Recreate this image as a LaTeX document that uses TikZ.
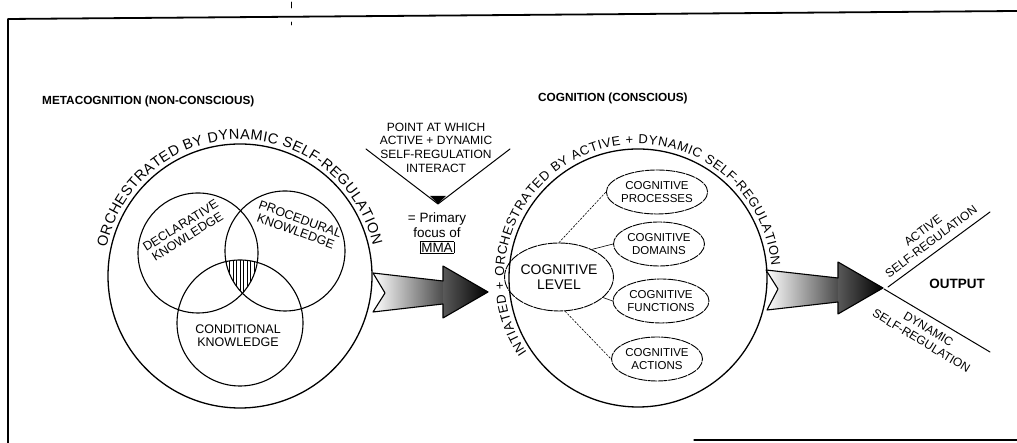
\documentclass[tikz,border=0pt]{standalone}
\usepackage{fontspec}
\setmainfont{Liberation Sans}
\usetikzlibrary{calc,decorations.text,shapes.geometric}
\begin{document}
\begin{tikzpicture}[x=1pt,y=1pt,line cap=round,line join=round,
  frameline/.style={line width=1.8pt},
  ring/.style={line width=1.3pt},
  venn/.style={line width=1.1pt},
  lab/.style={inner sep=0pt,align=center,font=\fontsize{12.5}{13}\selectfont},
  small/.style={inner sep=0pt,align=center,font=\fontsize{12}{13.7}\selectfont},
  cogell/.style={ellipse,draw,line width=0.9pt,dash pattern=on 9pt off 1.3pt,
     minimum width=91pt,minimum height=44pt,inner sep=0pt,align=center,
     font=\fontsize{11.5}{12.8}\selectfont},
  link/.style={line width=0.6pt},
  dlink/.style={line width=0.6pt,dash pattern=on 2pt off 1.5pt},
  arrowline/.style={line width=1.1pt},
  title/.style={font=\bfseries\fontsize{11.8}{14}\selectfont,inner sep=0pt,anchor=west},
  ringtext/.style={decorate,decoration={text along path,text align=fit to path,text={#1}}},
]
\useasboundingbox (0,0) rectangle (1017,443);

% frame
\coordinate (f1) at (8,0);
\coordinate (f2) at (8,424);
\coordinate (f3) at (1017,432);
\coordinate (f4) at (694,3);
\coordinate (f4b) at (760,3);
\coordinate (f4c) at (948,3);
\coordinate (f5) at (1017,3);
\draw[frameline] (f1) -- (f2) -- (f3);
\draw[line width=1.2pt] (f4) -- (f4b);
\draw[line width=1.8pt] (f4b) -- (f4c);
\draw[line width=2.4pt] (f4c) -- (f5);
\coordinate (k1) at (291,441); \coordinate (k2) at (291,435);
\coordinate (k3) at (291,421); \coordinate (k4) at (291,418);
\draw[line width=0.8pt] (k1) -- (k2) (k3) -- (k4);

% titles
\node[title] (t1) at (42,342) {METACOGNITION (NON-CONSCIOUS)};
\node[title] (t2) at (538,345) {COGNITION (CONSCIOUS)};

% left: metacognition
\coordinate (lc) at (240,167);
\draw[ring] (lc) circle (132pt);
\path[ringtext={|\fontsize{14.5}{14.5}\selectfont|ORCHESTRATED BY DYNAMIC SELF-REGULATION}]
  ($(lc)+(168:136.5pt)$) arc (168:13:136.5pt);

\coordinate (dc) at (198,190);
\coordinate (pc) at (285,192);
\coordinate (cc) at (240,120);
\begin{scope}
  \clip (dc) circle (60pt);
  \clip (pc) circle (60pt);
  \clip (cc) circle (63pt);
  \foreach \x in {212,215.5,...,270} {\draw[line width=0.6pt] (\x,140) -- (\x,190);}
\end{scope}
\draw[venn] (dc) circle (60pt);
\draw[venn] (pc) circle (60pt);
\draw[venn] (cc) circle (63pt);
\node[lab,rotate=32] (dec) at (184,212) {DECLARATIVE\\KNOWLEDGE};
\node[lab,rotate=-20] (proc) at (298,218) {PROCEDURAL\\KNOWLEDGE};
\node[lab] (cond) at (238,107) {CONDITIONAL\\KNOWLEDGE};

% arrow 1
\coordinate (a1t) at (373,170);
\coordinate (a1n) at (385,150);
\coordinate (a1b) at (373,131);
\coordinate (a1st) at (443,162);
\coordinate (a1sb) at (443,139);
\coordinate (a1ht) at (443,177);
\coordinate (a1hb) at (443,125);
\coordinate (a1tip) at (488,151);
\shade[left color=white,right color=black!70] (a1t) -- (a1st) -- (a1sb) -- (a1b) -- (a1n) -- cycle;
\shade[left color=black!65,right color=black] (a1ht) -- (a1tip) -- (a1hb) -- cycle;
\draw[arrowline] (a1t) -- (a1st) -- (a1ht) -- (a1tip) -- (a1hb) -- (a1sb) -- (a1b) -- (a1n) -- cycle;

% interaction point
\node[small] (pt) at (436,295.5) {POINT AT WHICH\\ACTIVE + DYNAMIC\\SELF-REGULATION\\INTERACT};
\coordinate (vl) at (366,294);
\coordinate (vv) at (438,239);
\coordinate (vr) at (510,294);
\coordinate (vtl) at (430,247);
\coordinate (vtr) at (446,247);
\draw[line width=1pt] (vl) -- (vv) -- (vr);
\fill (vtl) -- (vtr) -- (vv) -- cycle;
\node[inner sep=0pt,align=center,font=\fontsize{13.5}{15}\selectfont] (mma) at (437,210)
  {= Primary\\focus of\\{\setlength\fboxsep{0.8pt}\setlength\fboxrule{0.8pt}\fbox{MMA}}};

% right: cognition
\coordinate (rc) at (638,165);
\draw[ring] (rc) circle (129pt);
\path[ringtext={|\fontsize{13}{13}\selectfont|INTIATED + ORCHESTRATED BY ACTIVE + DYNAMIC SELF-REGULATION}]
  ($(rc)+(214:134pt)$) arc (214:5:134pt);

\node[cogell,minimum width=88pt,minimum height=68pt,font=\fontsize{14}{15.5}\selectfont] (cl) at (559,166) {COGNITIVE\\LEVEL};
\node[cogell] (procs) at (657,251) {COGNITIVE\\PROCESSES};
\node[cogell] (doms) at (659,199) {COGNITIVE\\DOMAINS};
\node[cogell,minimum width=96pt] (funcs) at (661,142) {COGNITIVE\\FUNCTIONS};
\node[cogell] (acts) at (657,84) {COGNITIVE\\ACTIONS};
\draw[dlink] (cl.north) -- (procs.west);
\draw[link] (cl.40) -- (doms.west);
\draw[link] (cl.-25) -- (funcs.west);
\draw[dlink] (cl.-80) -- (acts.west);

% arrow 2
\coordinate (a2t) at (766,173);
\coordinate (a2n) at (778,154);
\coordinate (a2b) at (767,133);
\coordinate (a2st) at (838,165);
\coordinate (a2sb) at (838,141);
\coordinate (a2ht) at (838,181);
\coordinate (a2hb) at (838,129);
\coordinate (a2tip) at (883,155);
\shade[left color=white,right color=black!70] (a2t) -- (a2st) -- (a2sb) -- (a2b) -- (a2n) -- cycle;
\shade[left color=black!65,right color=black] (a2ht) -- (a2tip) -- (a2hb) -- cycle;
\draw[arrowline] (a2t) -- (a2st) -- (a2ht) -- (a2tip) -- (a2hb) -- (a2sb) -- (a2b) -- (a2n) -- cycle;

% output
\coordinate (ou0) at (888,156);
\coordinate (ou1) at (990,231);
\coordinate (od0) at (884,154);
\coordinate (od1) at (990,91);
\draw[line width=1pt] (ou0) -- (ou1);
\draw[line width=1pt] (od0) -- (od1);
\node[small,rotate=37] (act) at (927,207) {ACTIVE\\SELF-REGULATION};
\node[small,rotate=-31] (dyn) at (925,108) {DYNAMIC\\SELF-REGULATION};
\node[inner sep=0pt,font=\bfseries\fontsize{13.5}{15}\selectfont] (out) at (957,159) {OUTPUT};
\end{tikzpicture}
\end{document}
